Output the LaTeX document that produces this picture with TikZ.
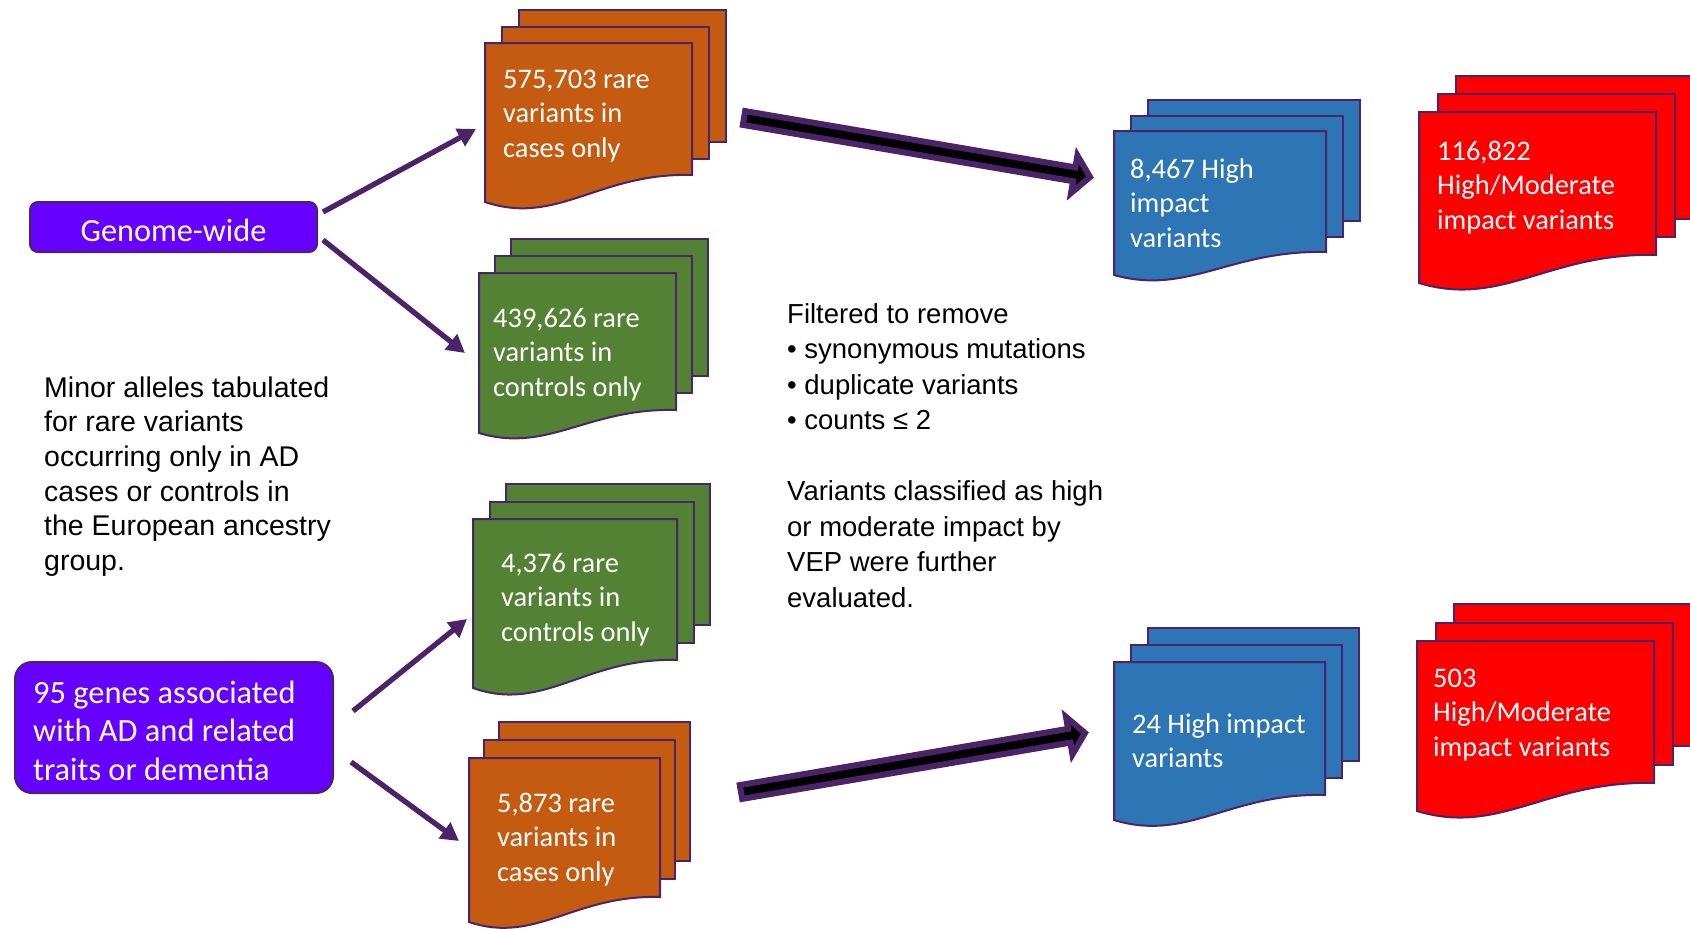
\documentclass[tikz,border=0pt]{standalone}
\usepackage{fontspec}
\setmainfont{Liberation Sans}
\newfontfamily\carlito{Carlito}
\usetikzlibrary{arrows.meta,calc}

\definecolor{edgepurple}{RGB}{75,35,105}
\definecolor{boxviolet}{RGB}{102,0,255}
\definecolor{cardorange}{RGB}{197,90,17}
\definecolor{cardgreen}{RGB}{84,130,53}
\definecolor{cardblue}{RGB}{46,117,182}
\definecolor{cardred}{RGB}{255,0,0}

% left-aligned block of lines whose baseline is the first line
\newcommand\linesblock[1]{\begin{tabular}[t]{@{}l@{}}#1\end{tabular}}

% stack of three documents: fill, front left x, front top y, front right x,
% right bottom y, left bottom y, layer offset dx, layer offset dy
\newcommand\docstack[8]{%
  \pgfmathsetmacro\dsw{#4-#2}%
  \pgfmathsetmacro\dsd{#6-#5}%
  \filldraw[cardline, fill=#1] (#2+2*#7, #3-2*#8) rectangle (#4+2*#7, #5-2*#8);
  \filldraw[cardline, fill=#1] (#2+#7, #3-#8) rectangle (#4+#7, #5-#8);
  \filldraw[cardline, fill=#1] (#2,#3) -- (#4,#3) -- (#4,#5)
    .. controls (#2+0.55*\dsw, #5-0.1*\dsd) and (#2+0.35*\dsw, #6+0.9*\dsd) .. (#2,#6) -- cycle;
}

% wide outlined arrow from a tail coordinate to a tip coordinate
\newcommand\blockarrow[2]{%
  \path ($(#2)!16pt!(#1)$) coordinate (ba-h);
  \filldraw[widearrow] ($(#1)!7pt!90:(#2)$) -- ($(ba-h)!7pt!90:(#2)$)
    -- ($(ba-h)!19pt!90:(#2)$) -- (#2) -- ($(ba-h)!19pt!-90:(#2)$)
    -- ($(ba-h)!7pt!-90:(#2)$) -- ($(#1)!7pt!-90:(#2)$) -- cycle;
}

\tikzset{
  cardline/.style={draw=edgepurple, line width=2pt, line join=miter},
  cardlabel/.style={anchor=base west, inner sep=0pt, text=white,
    font=\carlito\fontsize{28.4}{34.5}\selectfont},
  plaintext/.style={anchor=base west, inner sep=0pt, text=black},
  thinarrow/.style={draw=edgepurple, line width=5.3pt,
    -{Triangle[length=18pt,width=19pt]}},
  widearrow/.style={draw=edgepurple, fill=black, line width=6pt, line join=miter},
  violetbox/.style={draw=edgepurple, fill=boxviolet, line width=2pt}
}

\begin{document}
\begin{tikzpicture}[x=1pt, y=-1pt]
\useasboundingbox (0,0) rectangle (1690,929);
\clip (0,0) rectangle (1690,929);
\fill[white] (0,0) rectangle (1690,929);

% document stacks
\docstack{cardorange}{485}{43}{692}{175}{202}{17}{16.5}
\docstack{cardgreen}{479}{273}{676}{410}{433}{16}{17}
\docstack{cardgreen}{473}{519}{677}{660}{688}{16.5}{17.5}
\docstack{cardorange}{469}{758}{660}{897}{922}{15}{18}
\docstack{cardblue}{1114}{131}{1326}{252}{275}{17}{15.5}
\docstack{cardred}{1419}{112}{1656}{255}{283}{18.5}{18}
\docstack{cardblue}{1114}{662}{1325}{795}{820}{17}{17}
\docstack{cardred}{1417}{641}{1654}{783}{811}{18.5}{18.5}

% labels on the stacks
\node[cardlabel] (caseA) at (503,88) {\linesblock{575,703 rare\\variants in\\cases only}};
\node[cardlabel] (ctrlA) at (493,327) {\linesblock{439,626 rare\\variants in\\controls only}};
\node[cardlabel] (ctrlB) at (501,572) {\linesblock{4,376 rare\\variants in\\controls only}};
\node[cardlabel] (caseB) at (497,812) {\linesblock{5,873 rare\\variants in\\cases only}};
\node[cardlabel] (highA) at (1130,178) {\linesblock{8,467 High\\impact\\variants}};
\node[cardlabel] (hmA) at (1437,160) {\linesblock{116,822\\High/Moderate\\impact variants}};
\node[cardlabel] (highB) at (1132,733) {\linesblock{24 High impact\\variants}};
\node[cardlabel] (hmB) at (1433,687) {\linesblock{503\\High/Moderate\\impact variants}};

% source boxes
\node[violetbox, rounded corners=8pt, anchor=north west, minimum width=287pt,
  minimum height=50pt, inner sep=0pt, text=white, text height=28pt, text depth=0pt,
  font=\carlito\fontsize{32.3}{38.5}\selectfont] (gw) at (29,201) {Genome-wide};
\node[violetbox, rounded corners=17pt, anchor=north west, minimum width=318pt,
  minimum height=131pt, inner sep=0pt] (genes) at (14,661) {};
\node[cardlabel, font=\carlito\fontsize{32.4}{38.5}\selectfont] (genestxt) at (33,703)
  {\linesblock{95 genes associated\\with AD and related\\traits or dementia}};

% explanatory text
\node[plaintext, font=\fontsize{28.5}{34.7}\selectfont] (minor) at (44,397)
  {\linesblock{Minor alleles tabulated\\for rare variants\\occurring only in AD\\cases or controls in\\the European ancestry\\group.}};
\node[plaintext, font=\fontsize{27.5}{35.5}\selectfont] (filt) at (787,323)
  {\linesblock{Filtered to remove\\• synonymous mutations\\• duplicate variants\\• counts ≤ 2\\ \\Variants classified as high\\or moderate impact by\\VEP were further\\evaluated.}};

% thin arrows from the source boxes
\coordinate (gwUp) at (323,212);
\coordinate (gwDown) at (323,240);
\coordinate (caseAin) at (476,129);
\coordinate (ctrlAin) at (465,353);
\coordinate (genesUp) at (353,711);
\coordinate (genesDown) at (351,762);
\coordinate (ctrlBin) at (467,619);
\coordinate (caseBin) at (459,841);
\draw[thinarrow] (gwUp) -- (caseAin);
\draw[thinarrow] (gwDown) -- (ctrlAin);
\draw[thinarrow] (genesUp) -- (ctrlBin);
\draw[thinarrow] (genesDown) -- (caseBin);

% wide arrows towards the impact stacks
\coordinate (caseAout) at (744,118);
\coordinate (highAin) at (1090,177);
\coordinate (caseBout) at (741,792);
\coordinate (highBin) at (1085,733);
\blockarrow{caseAout}{highAin}
\blockarrow{caseBout}{highBin}
\end{tikzpicture}
\end{document}
